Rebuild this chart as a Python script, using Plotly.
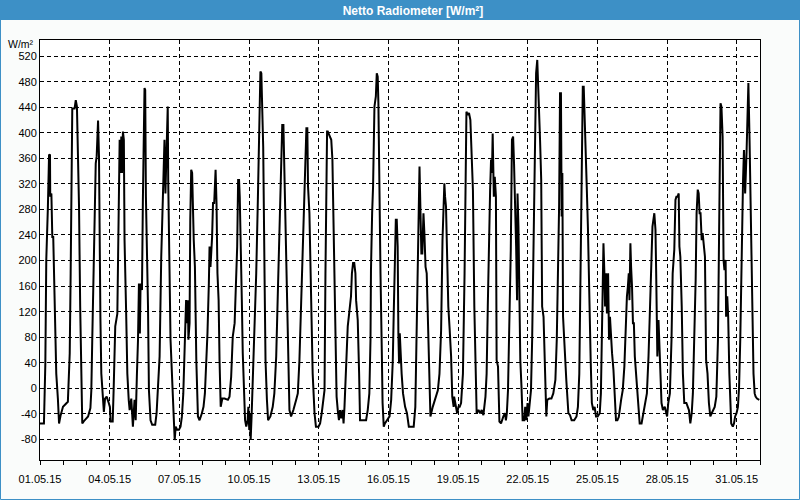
import plotly.graph_objects as go
import pandas as pd

# Time (days since 01.05.2015 00:00) and net radiation values (W/m²)
t_days = [
    0.00, 0.17, 0.23, 0.27, 0.34, 0.39, 0.43, 0.44, 0.49, 0.53, 0.57, 0.63, 0.70, 0.77, 0.82, 0.89, 0.99, 1.20,
    1.28, 1.32, 1.35, 1.39, 1.49, 1.54, 1.59, 1.64, 1.68, 1.73, 1.78, 1.82, 1.92, 2.07, 2.17,
    2.21, 2.25, 2.28, 2.35, 2.40, 2.44, 2.50, 2.54, 2.57, 2.60, 2.64, 2.71, 2.75, 2.80, 2.87, 2.96, 3.01, 3.04, 3.13,
    3.17, 3.24, 3.33, 3.39, 3.43, 3.47, 3.50, 3.53, 3.57, 3.61, 3.64, 3.71, 3.76, 3.82, 3.86, 3.93, 4.00, 4.07, 4.12,
    4.17, 4.22, 4.26, 4.30, 4.33, 4.39, 4.43, 4.50, 4.53, 4.56, 4.60, 4.65, 4.69, 4.76, 4.83, 4.96, 5.02, 5.08,
    5.15, 5.22, 5.29, 5.36, 5.40, 5.45, 5.50, 5.52, 5.57, 5.62, 5.68, 5.72, 5.77, 5.80, 5.84, 5.91, 5.98, 6.05, 6.11, 6.17,
    6.23, 6.27, 6.29, 6.32, 6.37, 6.39, 6.44, 6.47, 6.51, 6.55, 6.59, 6.62, 6.67, 6.73, 6.80, 6.87, 6.97, 7.04, 7.10, 7.16,
    7.21, 7.27, 7.30, 7.34, 7.39, 7.41, 7.45, 7.50, 7.56, 7.60, 7.64, 7.69, 7.73, 7.78, 7.85, 7.95, 8.09, 8.16, 8.23, 8.30, 8.38,
    8.45, 8.49, 8.53, 8.57, 8.60, 8.65, 8.69, 8.73, 8.78, 8.83, 8.88, 8.94, 8.97, 9.01, 9.03, 9.07, 9.11, 9.17,
    9.24, 9.31, 9.38, 9.45, 9.49, 9.53, 9.56, 9.61, 9.67, 9.71, 9.77, 9.82, 9.92, 10.02, 10.09,
    10.17, 10.24, 10.31, 10.38, 10.43, 10.48, 10.51, 10.56, 10.63, 10.70, 10.74, 10.81, 10.91, 11.03, 11.10, 11.17,
    11.24, 11.31, 11.39, 11.43, 11.47, 11.51, 11.54, 11.60, 11.67, 11.74, 11.82, 11.88, 11.99, 12.06, 12.13,
    12.25, 12.29, 12.32, 12.36, 12.39, 12.42, 12.47, 12.54, 12.59, 12.65, 12.71, 12.77, 12.82, 12.87, 12.92, 12.97, 13.03, 13.07, 13.11, 13.18, 13.25,
    13.31, 13.35, 13.39, 13.43, 13.48, 13.53, 13.58, 13.61, 13.68, 13.74, 13.78, 13.90, 14.04, 14.11, 14.18, 14.23,
    14.25, 14.30, 14.34, 14.40, 14.46, 14.50, 14.54, 14.57, 14.61, 14.66, 14.72, 14.75, 14.80, 14.85, 14.94, 15.05, 15.12, 15.19,
    15.23, 15.27, 15.32, 15.36, 15.40, 15.43, 15.46, 15.49, 15.53, 15.57, 15.63, 15.72, 15.80, 15.88, 16.01, 16.09, 16.16, 16.23,
    16.26, 16.31, 16.34, 16.38, 16.42, 16.46, 16.51, 16.55, 16.60, 16.65, 16.69, 16.75, 16.81, 16.91, 17.01, 17.13, 17.20,
    17.27, 17.33, 17.38, 17.41, 17.44, 17.48, 17.53, 17.58, 17.64, 17.70, 17.75, 17.81, 17.83, 17.90, 17.96, 18.02, 18.07, 18.13, 18.21,
    18.28, 18.32, 18.36, 18.42, 18.47, 18.53, 18.59, 18.64, 18.70, 18.77, 18.80, 18.88, 18.95, 19.02, 19.09, 19.18, 19.23,
    19.28, 19.32, 19.38, 19.42, 19.46, 19.49, 19.54, 19.58, 19.63, 19.66, 19.72, 19.78, 19.85, 19.95, 20.02, 20.06, 20.10, 20.15,
    20.21, 20.27, 20.32, 20.37, 20.41, 20.45, 20.50, 20.54, 20.56, 20.60, 20.64, 20.68, 20.73, 20.78, 20.85, 20.89, 20.94, 20.99, 21.03, 21.08, 21.14,
    21.19, 21.25, 21.31, 21.36, 21.41, 21.45, 21.48, 21.53, 21.58, 21.62, 21.68, 21.74, 21.80, 21.84, 21.93, 22.02, 22.10, 22.19,
    22.25, 22.30, 22.35, 22.39, 22.43, 22.46, 22.49, 22.52, 22.55, 22.60, 22.66, 22.75, 22.82, 22.89, 23.00, 23.10, 23.16, 23.22,
    23.27, 23.31, 23.37, 23.41, 23.45, 23.49, 23.54, 23.59, 23.65, 23.71, 23.76, 23.82, 23.88, 23.94, 24.01, 24.10, 24.15, 24.21,
    24.26, 24.30, 24.33, 24.37, 24.41, 24.46, 24.50, 24.54, 24.58, 24.63, 24.69, 24.74, 24.80, 24.86, 24.92, 25.02,
    25.09, 25.16, 25.23, 25.27, 25.31, 25.35, 25.38, 25.42, 25.45, 25.49, 25.53, 25.57, 25.61, 25.65, 25.70, 25.76, 25.82, 25.90, 25.97, 26.04, 26.13, 26.20, 26.26,
    26.30, 26.37, 26.45, 26.50, 26.53, 26.56, 26.58, 26.63, 26.67, 26.71, 26.76, 26.82, 26.90, 27.00, 27.05, 27.12, 27.19,
    27.24, 27.31, 27.36, 27.40, 27.45, 27.50, 27.53, 27.57, 27.63, 27.68, 27.74, 27.83, 27.89, 27.94, 28.00, 28.06, 28.11, 28.17,
    28.23, 28.27, 28.32, 28.36, 28.40, 28.44, 28.49, 28.53, 28.57, 28.63, 28.68, 28.74, 28.80, 28.86, 28.92, 28.98, 29.05, 29.12, 29.19,
    29.25, 29.30, 29.34, 29.39, 29.43, 29.47, 29.52, 29.54, 29.59, 29.63, 29.68, 29.72, 29.76, 29.83, 29.88, 29.93, 29.99, 30.05, 30.10, 30.15,
    30.21, 30.27, 30.31, 30.36, 30.42, 30.46, 30.50, 30.55, 30.59, 30.64, 30.68, 30.72, 30.77, 30.81, 30.87, 30.97,
]

netto = [
    -55, -55, 39, 201, 284, 366, 365, 300, 305, 237, 237, 149, 23, -16, -55, -42, -29, -21,
    55, 180, 274, 438, 438, 451, 441, 368, 285, 128, -8, -55, -50, -44, -31,
    -3, 76, 138, 222, 352, 363, 419, 363, 190, 112, 23, -18, -37, -16, -13, -23, -29, -52, -52,
    -3, 97, 117, 243, 389, 337, 394, 337, 402, 389, 232, 117, 23, -18, -34, -16, -60, -18, -50,
    18, 76, 164, 86, 164, 154, 295, 470, 467, 300, 232, 128, -3, -50, -57, -57, -39, 3,
    50, 206, 305, 389, 305, 389, 441, 326, 180, 76, 23, -3, -55, -81, -60, -65, -65, -60, -44, -8,
    65, 102, 138, 102, 138, 76, 102, 264, 342, 337, 264, 232, 190, 44, -44, -50, -39, -29, -8, 39,
    86, 164, 222, 190, 222, 237, 290, 290, 342, 290, 180, 138, 44, -29, -16, -16, -18, -13, 18, 81, 102,
    190, 222, 326, 326, 300, 232, 138, 55, 3, -50, -60, -50, -29, -65, -39, -81, -44, 23,
    76, 180, 295, 446, 496, 493, 446, 378, 170, 44, -18, -50, -44, -29, -8,
    50, 149, 258, 363, 412, 412, 363, 285, 128, 8, -34, -44, -34, -18, -8, 44,
    133, 243, 316, 368, 407, 407, 316, 274, 128, 23, -39, -60, -60, -55, -39,
    -3, 180, 300, 402, 402, 399, 394, 389, 358, 232, 76, -13, -34, -50, -34, -47, -34, -55, -29, 23, 97,
    117, 128, 144, 180, 196, 196, 180, 138, 107, 23, -50, -50, -50, -34, -8, 76,
    185, 274, 316, 441, 457, 493, 488, 446, 305, 180, 50, -23, -60, -55, -50, -44, -18, 44,
    117, 180, 264, 264, 222, 86, 39, 86, 50, 23, -8, -29, -39, -60, -60, -60, -29, 128,
    211, 279, 347, 279, 211, 211, 274, 243, 190, 180, 128, 23, -44, -29, -18, -3, 23,
    91, 232, 316, 321, 300, 285, 206, 128, 91, 50, -13, -29, -13, -29, -39, -29, -29, -23, 23,
    180, 347, 433, 428, 431, 420, 347, 310, 128, 3, -39, -34, -39, -34, -42, -13, 23,
    128, 232, 310, 358, 337, 399, 300, 331, 300, 44, 34, -52, -55, -44, -39, -50, -39, -3,
    102, 217, 389, 394, 352, 305, 222, 138, 305, 253, 128, 44, 3, -50, -50, -29, -50, -23, -44, -29, -3,
    76, 232, 441, 493, 514, 478, 441, 389, 326, 128, 112, 13, -44, -18, -16, -16, -8, 13,
    76, 180, 285, 462, 462, 269, 337, 112, 86, 50, 13, -39, -42, -50, -50, -44, -29, 23,
    149, 305, 472, 472, 410, 358, 316, 253, 128, 44, -23, -34, -29, -44, -44, -39, -8, 112,
    227, 180, 128, 180, 117, 180, 76, 112, 76, 55, 29, -3, -50, -50, -45, -18,
    -3, 34, 112, 144, 159, 180, 138, 227, 190, 159, 102, 102, 50, 29, -3, -34, -55, -55, -39, -29, -8, 50, 128,
    154, 253, 274, 248, 180, 112, 50, 107, 55, 3, -23, -34, -29, -44, -23, -8, 76,
    180, 217, 295, 300, 300, 305, 222, 206, 128, 23, -23, -23, -29, -34, -55, -39, -8, 76,
    170, 274, 311, 305, 274, 274, 232, 243, 227, 206, 44, 23, -23, -44, -39, -34, -29, -13, 76,
    279, 446, 441, 394, 201, 185, 201, 112, 144, 112, 23, -29, -55, -60, -55, -44, -39, -29, 3, 76,
    222, 326, 373, 305, 368, 415, 478, 389, 300, 180, 76, 23, -8, -13, -16, -18,
]

y_tick_values = list(range(-80, 521, 40))
start_date = "2015-05-01"
end_date = "2015-06-01"
chart_title = "Netto Radiometer [W/m²]"
unit_label = "W/m²"

times = pd.Timestamp(start_date) + pd.to_timedelta(t_days, unit="D")

FONT = "Liberation Sans"
BLUE = "#3D90C6"
DAY_MS = 86400000

fig = go.Figure()
fig.add_trace(go.Scatter(
    x=times, y=netto, mode="lines",
    line=dict(color="black", width=2),
    showlegend=False, hoverinfo="skip",
))

W, H = 800, 500
L, R, T, B = 40, 40, 40, 40
pw, ph = W - L - R, H - T - B


def px_x(p):
    return (p - L) / pw


def px_y(p):
    return (H - B - p) / ph


fig.update_layout(
    width=W, height=H,
    margin=dict(l=L, r=R, t=T, b=B, pad=0),
    paper_bgcolor="#FAFCFB",
    plot_bgcolor="white",
    font=dict(family=FONT, size=11, color="black"),
    title=dict(
        text="<b>" + chart_title + "</b>",
        font=dict(family=FONT, size=12, color="white"),
        x=413 / W, xanchor="center", xref="container",
        y=1 - 10.5 / H, yanchor="middle", yref="container",
    ),
    showlegend=False,
    shapes=[
        dict(type="rect", xref="paper", yref="paper",
             x0=px_x(0), x1=px_x(W), y0=px_y(20), y1=px_y(0),
             fillcolor=BLUE, line=dict(width=0), layer="below"),
        dict(type="rect", xref="paper", yref="paper",
             x0=px_x(0.5), x1=px_x(W - 0.5), y0=px_y(H - 0.5), y1=px_y(0.5),
             fillcolor="rgba(0,0,0,0)", line=dict(color=BLUE, width=1), layer="below"),
    ],
    annotations=[
        dict(text=unit_label, xref="paper", yref="paper",
             x=px_x(36), y=px_y(44), xanchor="right", yanchor="middle",
             showarrow=False, font=dict(family=FONT, size=10.5, color="black")),
    ],
)

fig.update_xaxes(
    type="date",
    range=[start_date, end_date],
    tick0=start_date, dtick=3 * DAY_MS,
    tickformat="%d.%m.%y",
    ticks="outside", ticklen=4, tickcolor="black", tickwidth=1,
    ticklabelstandoff=5,
    minor=dict(dtick=DAY_MS, tick0=start_date, ticks="outside", ticklen=4,
               tickcolor="black", showgrid=False),
    showgrid=True, gridcolor="black", gridwidth=1, griddash="4px,3px",
    showline=True, linecolor="black", linewidth=1, mirror=True,
    zeroline=False,
    tickfont=dict(family=FONT, size=11, color="black"),
)

fig.update_yaxes(
    range=[-112.2, 545.2],
    tickvals=y_tick_values,
    ticktext=[str(v) for v in y_tick_values],
    ticks="",
    showgrid=True, gridcolor="black", gridwidth=1, griddash="4px,3px",
    showline=True, linecolor="black", linewidth=1, mirror=True,
    zeroline=False,
    tickfont=dict(family=FONT, size=11, color="black"),
)

fig.write_html("out.html")
